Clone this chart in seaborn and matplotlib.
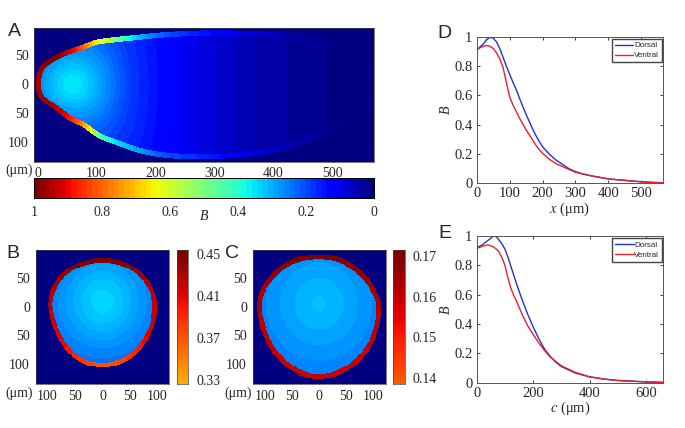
import numpy as np
import pandas as pd
import matplotlib
matplotlib.use("Agg")
import matplotlib.pyplot as plt
from matplotlib.path import Path
from matplotlib.transforms import ScaledTranslation
import seaborn as sns

# ---- panel A: outline (um), rim values, interior profile
a_out_x = [-4, 0, 12, 32, 54, 77, 99, 115, 133, 150, 173, 207, 286, 388, 444, 500, 534, 557, 567,
           557, 529, 472, 399, 331, 275, 218, 173, 133, 110, 99, 90, 77, 54, 37, 15, 0]
a_out_y = [0, 25, 39, 51, 60, 67, 76, 78, 80, 82, 84, 88, 92, 90, 86, 76, 64, 41, 0,
           -33, -62, -97, -120, -128, -130, -128, -120, -105, -97, -91, -85, -74, -65, -51, -36, -23]
a_rim = [.95, .97, 1, 1, .93, .8, .65, .6, .5, .4, .3, .22, .14, .07, .03, .015, .01, .005, .003,
         .005, .01, .03, .07, .12, .17, .2, .28, .34, .42, .5, .6, .75, .88, .93, .97, .97]
a_prof_d = [0, 20, 40, 60, 80, 100, 150, 200, 300, 400, 510]
a_prof_v = [.36, .34, .30, .26, .22, .185, .135, .10, .05, .02, .003]

# ---- panel B
b_out_x = [0, 38, 74, 95, 100, 95, 80, 56, 25, 0, -29, -59, -84, -97, -100, -93, -72, -35]
b_out_y = [85, 80, 60, 29, 0, -34, -63, -89, -103, -106, -102, -86, -52, -17, 9, 34, 63, 80]
b_rim = [.45, .445, .435, .425, .42, .415, .405, .385, .37, .37, .375, .395, .41, .42, .425, .43, .44, .45]
b_prof_d = [0, 20, 40, 60, 80, 100, 115]
b_prof_v = [.155, .148, .14, .13, .12, .112, .108]

# ---- panel C
c_out_x = [0, 44, 86, 110, 116, 107, 86, 50, 0, -41, -78, -102, -117, -111, -84, -47]
c_out_y = [92, 86, 57, 23, -6, -52, -86, -115, -129, -118, -92, -57, -6, 29, 63, 86]
c_rim = [.17, .168, .165, .163, .162, .16, .159, .158, .157, .158, .159, .16, .162, .164, .166, .168]
c_prof_d = [0, 30, 60, 90, 120, 135]
c_prof_v = [.054, .052, .049, .046, .043, .042]

# ---- panel D
d_x = [0, 10, 20, 30, 40, 50, 60, 70, 80, 90, 100, 110, 120, 130, 140, 150, 160, 170, 180, 190, 200,
       220, 240, 260, 280, 300, 320, 350, 400, 450, 500, 565]
d_dorsal = [.91, .93, .95, .98, .995, .99, .965, .92, .86, .80, .745, .69, .64, .58, .525, .47, .42, .37,
            .325, .285, .25, .20, .16, .13, .10, .08, .065, .05, .03, .02, .01, .003]
d_ventral = [.91, .925, .935, .94, .935, .92, .89, .85, .79, .69, .59, .535, .49, .445, .405, .365, .33,
             .295, .26, .23, .205, .165, .135, .115, .095, .075, .065, .05, .03, .02, .01, .003]

# ---- panel E
e_x = [0, 20, 40, 60, 70, 80, 90, 100, 110, 120, 130, 140, 150, 160, 180, 200, 220, 240, 260, 280, 300,
       350, 400, 450, 500, 600, 660]
e_dorsal = [.92, .94, .97, 1.0, .995, .97, .945, .91, .86, .80, .74, .68, .625, .57, .47, .38, .30, .23,
            .18, .14, .11, .065, .04, .025, .015, .005, .002]
e_ventral = [.915, .93, .94, .925, .91, .89, .85, .80, .72, .65, .60, .56, .515, .47, .39, .33, .27, .22,
             .175, .145, .115, .07, .04, .025, .015, .006, .002]

# ---- tick labels
a_xticks = [0, 100, 200, 300, 400, 500]
a_yticks = [50, 0, -50, -100]
a_bar_ticks = [1, .8, .6, .4, .2, 0]
bc_xticks = [-100, -50, 0, 50, 100]
b_bar_ticks = [.45, .41, .37, .33]
c_bar_ticks = [.17, .16, .15, .14]

sns.set_style("ticks")
plt.rcParams["font.family"] = ["Liberation Serif", "DejaVu Serif"]
plt.rcParams["xtick.direction"] = "in"
plt.rcParams["ytick.direction"] = "in"
plt.rcParams["mathtext.fontset"] = "stix"

W, H = 685, 428
fig = plt.figure(figsize=(W / 100, H / 100), dpi=100, facecolor="white")
JET = plt.get_cmap("jet", 64)
BG = 0.0


def axpx(x0, y0, x1, y1):
    return fig.add_axes([x0 / W, 1 - y1 / H, (x1 - x0) / W, (y1 - y0) / H])


def txt(px, py, s, **kw):
    kw.setdefault("ha", "center")
    kw.setdefault("va", "center")
    kw.setdefault("fontsize", 10)
    fig.text(px / W, 1 - py / H, s, **kw)


def rounded(xs, ys, vs, n=6, passes=2):
    """Corner-cut the closed outline so it is drawn as a smooth curve."""
    P = np.c_[xs, ys, vs].astype(float)
    for _ in range(passes):
        Q = np.roll(P, -1, axis=0)
        P = np.stack([0.75 * P + 0.25 * Q, 0.25 * P + 0.75 * Q], axis=1).reshape(-1, 3)
    Q = np.roll(P, -1, axis=0)
    w = (np.arange(n) / n)[None, :, None]
    return (P[:, None, :] * (1 - w) + Q[:, None, :] * w).reshape(-1, 3)


def build(xlim, ylim, step, ox, oy, rim, width, interior):
    xs = np.arange(xlim[0], xlim[1], step) + step / 2
    ys = np.arange(ylim[1], ylim[0], -step) - step / 2
    X, Y = np.meshgrid(xs, ys)
    R = rounded(ox, oy, rim)
    ins = Path(R[:, :2]).contains_points(np.c_[X.ravel(), Y.ravel()]).reshape(X.shape)
    Z = np.full(X.shape, BG)
    Z[ins] = interior(X, Y)[ins]
    for i, j in zip(*np.nonzero(ins)):
        d2 = (X[i, j] - R[:, 0]) ** 2 + (Y[i, j] - R[:, 1]) ** 2
        k = d2.argmin()
        if d2[k] < width ** 2:
            Z[i, j] = R[k, 2]
    return xs, ys, Z


def heat(ax, xs, ys, Z, vmax):
    df = pd.DataFrame(Z, index=ys, columns=xs)
    sns.heatmap(df, ax=ax, cmap=JET, vmin=0, vmax=vmax, cbar=False, xticklabels=False, yticklabels=False)


def style_map(ax, xs, ys, step, xticks, yticks, tickfs=10):
    ax.set_xticks([(t - xs[0]) / step + 0.5 for t in xticks])
    ax.set_xticklabels([str(abs(t)) for t in xticks], fontsize=tickfs)
    ax.set_yticks([(ys[0] - t) / step + 0.5 for t in yticks])
    ax.set_yticklabels([str(abs(t)) for t in yticks], fontsize=tickfs, rotation=0)
    ax.tick_params(length=2, width=0.6, pad=4, top=True, right=True, color="black")
    for s in ax.spines.values():
        s.set_visible(True)
        s.set_linewidth(0.5)
        s.set_color("#444444")


# Panel A
def a_int(X, Y):
    f = np.interp(X, [60, 300], [1, 0.12])
    d = np.sqrt((X - 60) ** 2 + (Y * f) ** 2)
    return np.interp(d, a_prof_d, a_prof_v)


ax = axpx(34, 27.5, 374, 161.7)
xs, ys, Z = build((-6, 570), (-134, 97), 1.7, a_out_x, a_out_y, a_rim, 9, a_int)
heat(ax, xs, ys, Z, 1)
style_map(ax, xs, ys, 1.7, a_xticks, a_yticks)

cb = axpx(34, 178, 374, 198)
lv = np.linspace(1, 0, 64)[None, :]
sns.heatmap(lv, ax=cb, cmap=JET, vmin=0, vmax=1, cbar=False, xticklabels=False, yticklabels=False)
cb.set_xticks([(1 - t) * 64 for t in a_bar_ticks])
cb.set_xticklabels([f"{t:g}" for t in a_bar_ticks], fontsize=10)
for lab, dpx in zip(cb.get_xticklabels(), [4, -5, -5, -2, 0, 0]):
    lab.set_transform(lab.get_transform() + ScaledTranslation(dpx / 100, 0, fig.dpi_scale_trans))
cb.tick_params(axis="x", length=3, width=0.8, pad=6, top=True, color="black")
cb.set_yticks([])
for s in cb.spines.values():
    s.set_visible(True)
    s.set_linewidth(0.7)
    s.set_color("black")
txt(204, 217, "B", fontstyle="italic", fontsize=10)


# Panels B and C
def radial(cy, pd_, pv):
    return lambda X, Y: np.interp(np.sqrt(X ** 2 + (Y - cy) ** 2), pd_, pv)


ax = axpx(35.5, 250, 169, 384)
xs, ys, Z = build((-122, 120), (-133, 98), 1.6, b_out_x, b_out_y, b_rim, 8, radial(9, b_prof_d, b_prof_v))
heat(ax, xs, ys, Z, .45)
style_map(ax, xs, ys, 1.6, bc_xticks, a_yticks)

ax = axpx(252.5, 250, 386, 384)
xs, ys, Z = build((-123, 123), (-133, 98), 1.6, c_out_x, c_out_y, c_rim, 9, radial(5, c_prof_d, c_prof_v))
heat(ax, xs, ys, Z, .17)
style_map(ax, xs, ys, 1.6, bc_xticks, a_yticks)


def small_bar(x0, x1, lo, hi, vmax, ticks):
    bar = axpx(x0, 250, x1, 384)
    n = 64
    v = np.linspace(hi, lo, n)[:, None]
    sns.heatmap(v, ax=bar, cmap="jet", vmin=0, vmax=vmax, cbar=False, xticklabels=False, yticklabels=False)
    bar.set_xticks([])
    bar.yaxis.tick_right()
    bar.set_yticks([(hi - t) / (hi - lo) * n for t in ticks])
    bar.set_yticklabels([f"{t:.2f}" for t in ticks], fontsize=10, rotation=0)
    bar.tick_params(axis="y", length=1.5, width=0.5, pad=6, color="black")
    for s in bar.spines.values():
        s.set_visible(True)
        s.set_linewidth(0.5)
        s.set_color("#444444")


small_bar(177, 188, .326, .4538, .45, b_bar_ticks)
small_bar(393.5, 404.5, .1385, .1715, .17, c_bar_ticks)


# Panels D and E
def curve(box, x, dors, vent, xlim, xticks, xlab):
    ax = axpx(*box)
    sns.lineplot(x=x, y=dors, ax=ax, color="#2233cc", lw=1.0, label="Dorsal", errorbar=None)
    sns.lineplot(x=x, y=vent, ax=ax, color="#e8202a", lw=1.0, label="Ventral", errorbar=None)
    ax.set_xlim(*xlim)
    ax.set_ylim(0, 1)
    ax.set_xticks(xticks)
    ax.set_yticks([0, .2, .4, .6, .8, 1])
    ax.set_yticklabels(["0", "0.2", "0.4", "0.6", "0.8", "1"])
    ax.tick_params(labelsize=10.5, length=2, width=0.6, top=True, right=True, pad=3, color="#222222")
    for s in ax.spines.values():
        s.set_linewidth(0.7)
        s.set_color("#555555")
    ax.set_xlabel(xlab, fontsize=10.5, labelpad=0)
    ax.set_ylabel("B", fontstyle="italic", fontsize=10, labelpad=1)
    leg = ax.legend(loc="upper right", bbox_to_anchor=(0.995, 0.985), borderaxespad=0, frameon=True,
                    fancybox=False, framealpha=1, edgecolor="#444444", prop={"family": "Liberation Sans", "size": 5.8},
                    handlelength=2.3, handletextpad=0.1, labelspacing=0.3, borderpad=0.35)
    leg.get_frame().set_linewidth(1.0)


curve((476.7, 36.7, 662.7, 183.3), d_x, d_dorsal, d_ventral, (0, 565), [0, 100, 200, 300, 400, 500],
      r"$\mathit{x}$ (μm)")
curve((476.7, 236, 663, 382.7), e_x, e_dorsal, e_ventral, (0, 660), [0, 200, 400, 600], r"$\mathit{c}$ (μm)")

# Units and panel letters
for px, py in [(19, 170), (19, 393), (238, 393)]:
    txt(px, py, "(μm)", fontsize=10)
for px, py, s in [(14, 31, "A"), (13, 254, "B"), (232, 254, "C"), (444, 33, "D"), (445, 233, "E")]:
    txt(px, py, s, fontsize=14, family="Liberation Sans")

fig.savefig("out.png", dpi=100)
